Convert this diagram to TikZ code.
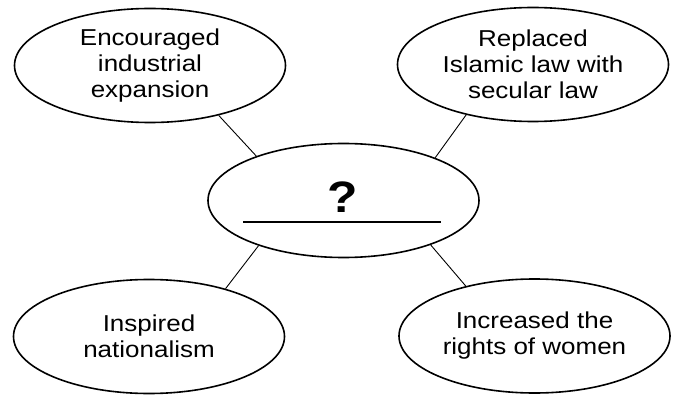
\documentclass[tikz,border=0pt]{standalone}
\usepackage{fontspec}
\setmainfont[FakeStretch=1.13]{Liberation Sans}
\usetikzlibrary{shapes.geometric}
\begin{document}
\begin{tikzpicture}[x=1pt,y=1pt,
  bubble/.style={draw=black, line width=1.6pt, ellipse, minimum width=271pt, minimum height=114pt, inner sep=0pt, align=center, font=\fontsize{23}{26}\selectfont},
  conn/.style={draw=black, line width=0.9pt},
  qmark/.style={inner sep=0pt, font=\fontsize{44}{44}\selectfont\bfseries}]
\useasboundingbox (0,0) rectangle (677,394);
\node[bubble] (tl) at (150,328.5) {Encouraged\\industrial\\expansion};
\node[bubble] (tr) at (533,329.5) {Replaced\\Islamic law with\\secular law};
\node[bubble] (c)  at (343.5,193.5) {};
\node[bubble] (bl) at (149,57.5) {Inspired\\nationalism};
\node[bubble] (br) at (534.5,58) {Increased the\\rights of women};
\node[qmark, anchor=base] (q) at (343,182) {?};
\coordinate (ul1) at (243,172);
\coordinate (ul2) at (441,172);
\draw[line width=2.4pt] (ul1) -- (ul2);
\draw[conn] (tl.-36.3) -- (c.153);
\draw[conn] (tr.217.4) -- (c.25.7);
\draw[conn] (bl.32.2) -- (c.208.5);
\draw[conn] (br.144.7) -- (c.-27.5);
\end{tikzpicture}
\end{document}
